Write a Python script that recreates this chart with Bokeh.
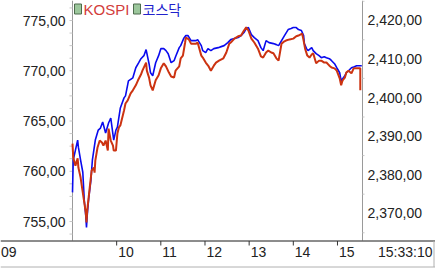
from bokeh.plotting import figure
from bokeh.models import Range1d
from bokeh.embed import file_html
from bokeh.resources import INLINE
from bokeh.core.properties import value

# ---------------- data (minutes after 09:00) ----------------
kosdaq_t = [0, 1, 4, 7, 8, 11, 14, 16, 18, 19,
            20, 22, 25, 27, 29, 31, 35, 38, 41, 45,
            49, 52, 56, 59, 61, 65, 70, 72, 76, 82,
            86, 90, 93, 97, 100, 104, 106, 109, 113, 117,
            120, 124, 127, 130, 134, 138, 140, 145, 147, 151,
            154, 157, 161, 164, 168, 170, 175, 177, 181, 184,
            188, 192, 198, 202, 206, 211, 215, 220, 225, 229,
            233, 236, 239, 243, 247, 252, 256, 259, 263, 267,
            273, 277, 280, 284, 288, 293, 297, 300, 304, 307,
            311, 314, 315, 318, 320, 325, 327, 331, 335, 338,
            342, 345, 349, 352, 356, 359, 363, 365, 370, 372,
            375, 379, 383, 386, 390, 393]
kosdaq_v = [757.9, 761.1, 762.1, 763.1, 762.4, 761.1, 759.9, 757.1, 755.6, 754.4,
            755.6, 757.3, 759.1, 761.1, 762.1, 763.1, 764.1, 764.3, 764.9, 763.8,
            764.8, 765.3, 763.1, 764.1, 764.4, 766.3, 767.3, 767.5, 769.0, 769.3,
            770.3, 770.8, 771.2, 771.5, 772.1, 770.7, 769.8, 769.5, 770.8, 771.5,
            772.2, 772.2, 772.0, 771.7, 770.8, 771.0, 771.4, 772.3, 772.5, 773.2,
            773.5, 773.5, 773.0, 773.0, 773.0, 773.1, 772.5, 772.0, 771.8, 772.2,
            772.0, 772.2, 772.3, 772.4, 772.5, 772.8, 773.1, 773.2, 773.3, 773.5,
            773.8, 774.2, 774.3, 773.6, 773.3, 773.0, 772.3, 772.0, 773.0, 772.8,
            772.7, 772.6, 772.5, 773.0, 773.5, 774.1, 774.2, 774.3, 774.3, 774.1,
            774.0, 773.5, 772.7, 772.2, 772.0, 772.3, 772.0, 771.7, 771.5, 771.3,
            771.4, 771.3, 771.2, 771.0, 770.7, 770.3, 769.8, 769.0, 769.5, 769.8,
            770.0, 770.3, 770.4, 770.5, 770.5, 770.5]

kospi_t = [0, 1, 4, 7, 8, 11, 12, 15, 18, 19,
           20, 23, 26, 29, 30, 31, 34, 37, 40, 42,
           45, 48, 49, 52, 55, 56, 59, 61, 63, 65,
           70, 72, 75, 79, 82, 86, 89, 93, 95, 100,
           101, 104, 106, 109, 113, 117, 120, 124, 127, 131,
           134, 138, 140, 145, 147, 150, 153, 154, 158, 161,
           164, 168, 170, 175, 177, 181, 185, 188, 192, 195,
           199, 205, 209, 213, 215, 220, 225, 229, 233, 236,
           239, 243, 247, 252, 256, 259, 263, 266, 270, 273,
           277, 280, 284, 288, 290, 295, 300, 304, 307, 312,
           314, 316, 319, 322, 325, 327, 331, 335, 338, 342,
           345, 349, 352, 356, 359, 363, 365, 367, 370, 372,
           375, 379, 382, 386, 390, 391, 391]
kospi_v = [2388.1, 2384.5, 2382.4, 2384.3, 2381.9, 2379.3, 2378.0, 2374.1, 2370.3, 2367.7,
           2370.8, 2376.0, 2381.1, 2381.9, 2380.6, 2383.7, 2387.1, 2388.9, 2388.4, 2387.6,
           2388.9, 2386.3, 2392.0, 2388.9, 2387.6, 2386.3, 2386.3, 2390.7, 2392.3, 2392.8,
           2396.7, 2398.5, 2399.3, 2401.1, 2401.9, 2403.2, 2404.5, 2406.0, 2407.0, 2409.1,
           2407.0, 2405.2, 2403.2, 2401.9, 2404.5, 2405.8, 2407.6, 2408.9, 2408.1, 2406.5,
           2405.5, 2405.2, 2407.0, 2408.1, 2410.2, 2410.9, 2414.3, 2415.6, 2415.1, 2414.0,
           2414.0, 2414.0, 2414.3, 2410.9, 2410.4, 2409.1, 2408.1, 2407.0, 2408.3, 2409.1,
           2409.6, 2410.2, 2411.7, 2414.0, 2414.3, 2415.3, 2415.9, 2416.1, 2417.4, 2418.2,
           2417.4, 2415.3, 2414.3, 2412.7, 2410.7, 2410.4, 2411.7, 2412.2, 2411.7, 2411.5,
           2410.2, 2409.6, 2414.0, 2414.6, 2414.8, 2415.1, 2415.3, 2415.9, 2416.1, 2416.6,
           2414.8, 2412.7, 2410.9, 2410.4, 2411.2, 2411.5, 2408.9, 2409.6, 2409.6, 2409.1,
           2409.1, 2408.3, 2407.8, 2407.6, 2407.0, 2405.0, 2403.2, 2404.5, 2405.2, 2406.5,
           2407.0, 2406.3, 2407.6, 2407.6, 2407.6, 2407.6, 2401.9]

series_names = ["KOSPI", "코스닥"]
kosdaq_ticks = [755, 760, 765, 770, 775]
kospi_ticks = [2370, 2380, 2390, 2400, 2410, 2420]
hour_labels = ["10", "11", "12", "13", "14", "15"]
start_label = "09"
end_label = "15:33:10"

# ---------------- layout / styling (pixels) ----------------
W, H = 435, 268
LEFT, RIGHT_EDGE, AREA_BOTTOM = 72, 362, 240
FONT = "Liberation Sans"
FS = "14px"
TXT = "#222222"
RED = "#CC3311"
BLUE = "#0A0AEE"
AXIS = "#9a9a9a"
MINOR = "#c8c8c8"

x_end = 394                       # minutes shown in the plotting area
kosdaq_top, kosdaq_bottom = 776.99, 753.11
kospi_top, kospi_bottom = 2425.18, 2363.0

xscale = (RIGHT_EDGE - LEFT) / x_end
lscale = AREA_BOTTOM / (kosdaq_top - kosdaq_bottom)
rscale = AREA_BOTTOM / (kospi_top - kospi_bottom)


def px_x(px):      # canvas pixel -> x data
    return (px - LEFT) / xscale


def px_y(py):      # canvas pixel -> left-scale data
    return kosdaq_top - py / lscale


def fmt(v):
    return f"{v:,.2f}".replace(".", ",")


p = figure(width=W, height=H,
           x_range=Range1d(px_x(0), px_x(W)),
           y_range=Range1d(px_y(H), kosdaq_top),
           output_backend="svg", toolbar_location=None,
           x_axis_location=None, y_axis_location=None,
           min_border=0, outline_line_color=None,
           background_fill_color="white", border_fill_color="white")
p.grid.visible = False
p.extra_y_ranges = {"kospi": Range1d(kospi_top - H / rscale, kospi_top)}

# ----- left value axis (코스닥) -----
p.segment(x0=[0], y0=[kosdaq_bottom], x1=[0], y1=[kosdaq_top], line_color=AXIS, line_width=1)
minor_l = [kosdaq_ticks[0] + 1.25 * i for i in range(-1, 18)]
p.segment(x0=[px_x(LEFT - 3)] * len(minor_l), y0=minor_l, x1=[0] * len(minor_l), y1=minor_l,
          line_color=MINOR, line_width=1)
p.text(x=[0] * len(kosdaq_ticks), y=kosdaq_ticks, text=[fmt(t) for t in kosdaq_ticks],
       x_offset=-7, text_align="right", text_baseline="middle",
       text_font=value(FONT), text_font_size=FS, text_color=TXT)

# ----- right value axis (KOSPI) -----
p.segment(x0=[x_end], y0=[kosdaq_bottom], x1=[x_end], y1=[kosdaq_top], line_color=AXIS, line_width=1)
minor_r = [kospi_ticks[0] - 5 + 10 * i for i in range(7)]
p.segment(x0=[x_end] * len(minor_r), y0=minor_r, x1=[px_x(RIGHT_EDGE + 2)] * len(minor_r),
          y1=minor_r, line_color=MINOR, line_width=1, y_range_name="kospi")
p.text(x=[x_end] * len(kospi_ticks), y=kospi_ticks, text=[fmt(t) for t in kospi_ticks],
       x_offset=5, text_align="left", text_baseline="middle", y_range_name="kospi",
       text_font=value(FONT), text_font_size=FS, text_color=TXT)

# ----- series -----
p.line(kosdaq_t, kosdaq_v, line_color=BLUE, line_width=1.6)
p.line(kospi_t, kospi_v, line_color=RED, line_width=2, y_range_name="kospi")

# ----- legend -----
p.rect(x=[px_x(77.5), px_x(136.5)], y=[px_y(8.5)] * 2, width=7, height=10,
       width_units="screen", height_units="screen",
       fill_color="#9cc79c", line_color="#4d6b4d", line_width=1)
p.text(x=[px_x(83)], y=[px_y(8.5)], text=[series_names[0]], text_color="#D23C3C",
       text_font=value(FONT), text_font_size="15px", text_baseline="middle")
p.text(x=[px_x(142)], y=[px_y(8.5)], text=[series_names[1]], text_color="#2222CC",
       text_font=value("Noto Sans CJK KR"), text_font_size="14px", text_baseline="middle")

# ----- time axis strip -----
hours_min = [(int(h) - 9) * 60 for h in hour_labels]
y_line = px_y(AREA_BOTTOM + 0.5)
p.segment(x0=[px_x(0)], y0=[y_line], x1=[px_x(W)], y1=[y_line], line_color="#1a1a1a", line_width=1)
p.segment(x0=hours_min, y0=[y_line] * len(hours_min), x1=hours_min,
          y1=[px_y(AREA_BOTTOM + 5)] * len(hours_min), line_color="#333333", line_width=1)
label_y = px_y(251)
p.text(x=hours_min, y=[label_y] * len(hours_min), text=hour_labels, x_offset=1.5,
       text_align="left", text_baseline="middle",
       text_font=value(FONT), text_font_size=FS, text_color=TXT)
p.text(x=[px_x(0.5)], y=[label_y], text=[start_label], text_align="left", text_baseline="middle",
       text_font=value(FONT), text_font_size=FS, text_color=TXT)
p.text(x=[px_x(432)], y=[label_y], text=[end_label], text_align="right", text_baseline="middle",
       text_font=value(FONT), text_font_size=FS, text_color=TXT)
y_low = px_y(266.5)
p.segment(x0=[px_x(0)], y0=[y_low], x1=[px_x(W)], y1=[y_low], line_color="#b0b0b0", line_width=1)
p.segment(x0=[px_x(433.5)], y0=[y_line], x1=[px_x(433.5)], y1=[y_low], line_color="#b0b0b0",
          line_width=1)

open("out.html", "w").write(file_html(p, INLINE))
